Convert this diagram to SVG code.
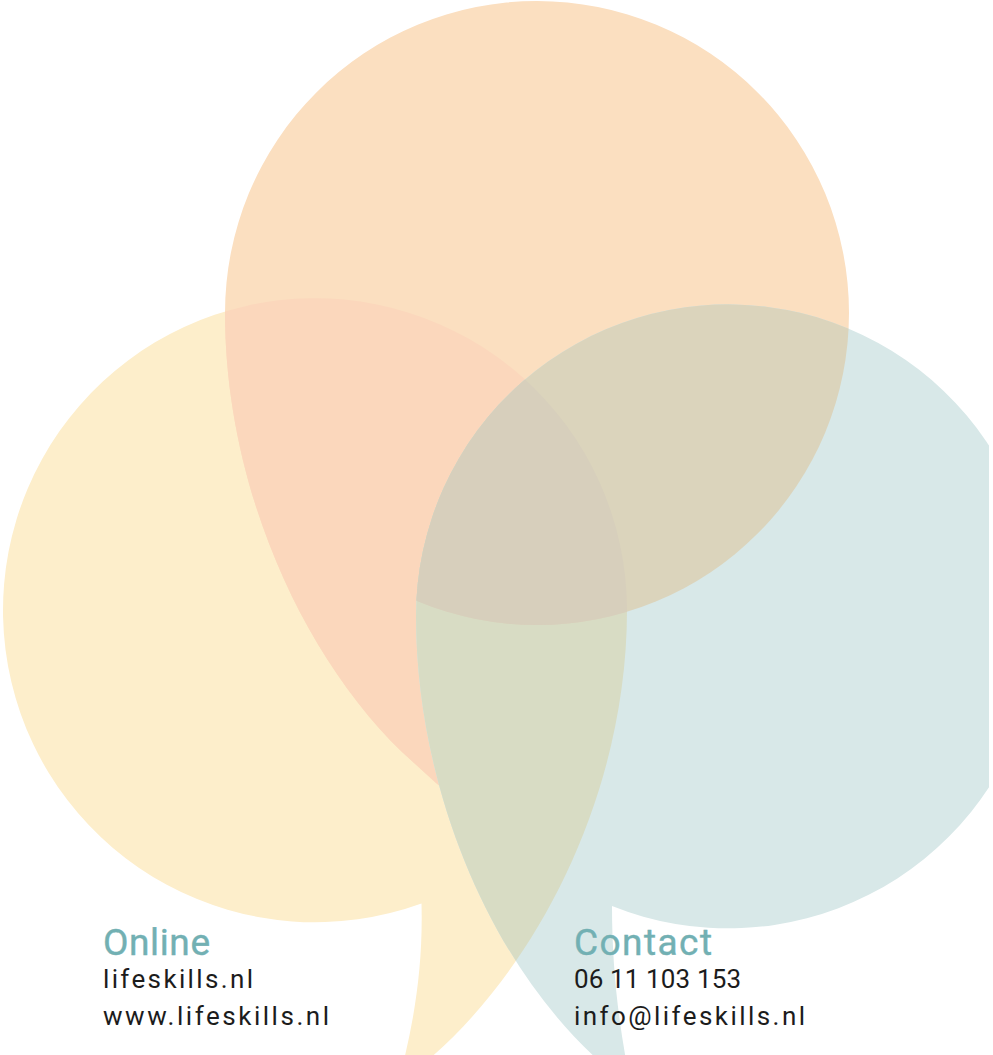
<svg xmlns="http://www.w3.org/2000/svg" xmlns:xlink="http://www.w3.org/1999/xlink" width="993" height="1055" viewBox="0 0 993 1055">
<style>
.head{font-family:Roboto,"Liberation Sans",sans-serif;font-size:37px;fill:#72b0b3;stroke:#72b0b3;stroke-width:.4px}
.body{font-family:Roboto,"Liberation Sans",sans-serif;font-size:26px;fill:#1c1c1c}
</style>
<defs>
<path id="y" d="M627,610 A312,312 0 1 0 421.5,903.5 C423,960 416,1010 404,1060 L428,1060 C536,968 627,795 627,610 Z"/>
<path id="o" d="M225,313 A312,312 0 1 1 537,625 L470,810 L436,783 L402,752 C300,653 225,483 225,313 Z"/>
<circle id="oc" cx="537" cy="313" r="312"/>
<path id="t" d="M416,616 A312,312 0 1 1 612,906 C612,960 617,1010 626,1060 L598,1060 C486,958 416,782 416,616 Z"/>
<clipPath id="cy"><use xlink:href="#y"/></clipPath>
<clipPath id="ct"><use xlink:href="#t"/></clipPath>
<clipPath id="page"><rect width="989" height="1055"/></clipPath>
</defs>
<rect width="993" height="1055" fill="#fff"/>
<g id="bubbles" clip-path="url(#page)">
<use id="bubble-yellow" xlink:href="#y" fill="#fdeecb"/>
<use id="bubble-orange" xlink:href="#o" fill="#fbdfc0"/>
<g clip-path="url(#cy)"><use xlink:href="#o" fill="#fbd7bc"/></g>
<use id="bubble-teal" xlink:href="#t" fill="#d8e8e8"/>
<g clip-path="url(#ct)">
<use xlink:href="#y" fill="#d8dcc4"/>
<use xlink:href="#oc" fill="#dbd4bc"/>
<g clip-path="url(#cy)"><use xlink:href="#oc" fill="#d7cfbc"/></g>
</g>
</g>
<g id="online">
<text class="head" x="103" y="955" textLength="107" lengthAdjust="spacing">Online</text>
<text class="body" x="103" y="988" textLength="150" lengthAdjust="spacing">lifeskills.nl</text>
<text class="body" x="103" y="1025" textLength="226" lengthAdjust="spacing">www.lifeskills.nl</text>
</g>
<g id="contact">
<text class="head" x="574" y="955" textLength="138" lengthAdjust="spacing">Contact</text>
<text class="body" x="574" y="988" textLength="167" lengthAdjust="spacing">06 11 103 153</text>
<text class="body" x="574" y="1025" textLength="231" lengthAdjust="spacing">info@lifeskills.nl</text>
</g>
</svg>
